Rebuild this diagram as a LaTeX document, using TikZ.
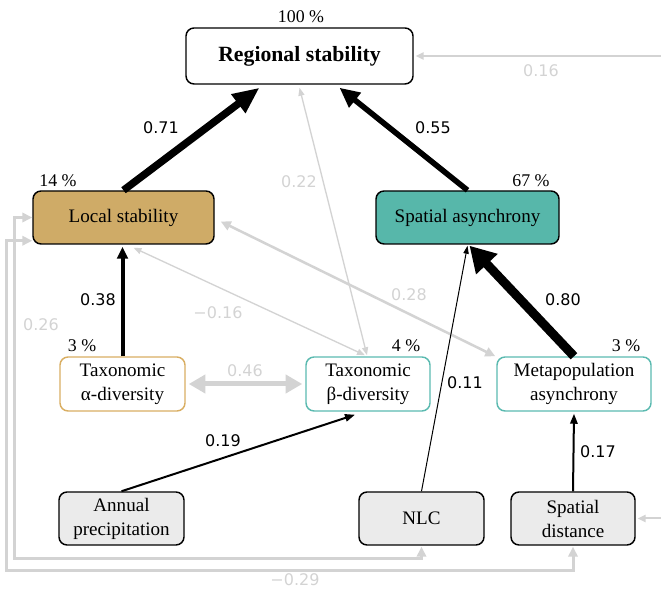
\documentclass[tikz,border=0pt]{standalone}
\usepackage{fontspec}
\setmainfont{Liberation Serif}
\newfontfamily\labfont{DejaVu Sans}
\usetikzlibrary{arrows.meta,calc}
\definecolor{loccol}{HTML}{CFAB67}
\definecolor{sacol}{HTML}{57B7AA}
\definecolor{alphacol}{HTML}{D9AE62}
\definecolor{betacol}{HTML}{5BBAB0}
\definecolor{drivercol}{HTML}{EBEBEB}
\definecolor{grycol}{HTML}{D3D3D3}
\begin{document}
\begin{tikzpicture}[x=0.75pt,y=-0.75pt,
  box/.style={draw, rounded corners=6pt, line width=1.1pt, align=center, inner sep=0pt,
    font=\fontsize{14.3}{18}\selectfont},
  pct/.style={font=\fontsize{13.4}{15}\selectfont, inner sep=0pt},
  lab/.style={font=\labfont\fontsize{12}{14}\selectfont, inner sep=0pt},
  glab/.style={lab, text=grycol},
  blk/.style={draw=black},
  gry/.style={draw=grycol}
]
\useasboundingbox (0,0) rectangle (661,591);

% nodes
\node[box, fill=white, minimum width=170.25pt, minimum height=42pt] (reg) at (299.5,56)
  {\bfseries\fontsize{16.3}{18}\selectfont Regional stability};
\node[box, fill=loccol, minimum width=135.75pt, minimum height=39.75pt] (loc) at (123.5,217.5) {Local stability};
\node[box, fill=sacol, minimum width=137.25pt, minimum height=39.75pt] (sa) at (467.5,217.5) {Spatial asynchrony};
\node[box, draw=alphacol, minimum width=93.75pt, minimum height=40.5pt] (alpha) at (122.5,384) {Taxonomic\\α-diversity};
\node[box, draw=betacol, minimum width=93pt, minimum height=40.5pt] (beta) at (368,384) {Taxonomic\\β-diversity};
\node[box, draw=betacol, minimum width=115.5pt, minimum height=40.5pt] (mp) at (574,384) {Metapopulation\\asynchrony};
\node[box, fill=drivercol, minimum width=93.75pt, minimum height=39.75pt] (ann) at (121.5,518.5) {Annual\\precipitation};
\node[box, fill=drivercol, minimum width=93.75pt, minimum height=39.75pt] (nlc) at (421.5,518.5) {NLC};
\node[box, fill=drivercol, minimum width=93pt, minimum height=39.75pt] (sd) at (573,518.5) {Spatial\\distance};

% percentages
\node[pct] (p1) at (301,17) {100 \%};
\node[pct] (p2) at (58,181) {14 \%};
\node[pct] (p3) at (531,181) {67 \%};
\node[pct] (p4) at (82,346) {3 \%};
\node[pct] (p5) at (406,346) {4 \%};
\node[pct] (p6) at (626,346) {3 \%};

\coordinate (r1) at (661,56);
\coordinate (r2) at (661,518.5);

% gray connectors
\draw[gry, line width=1.5pt, -{Triangle[length=6pt,width=5.5pt]}] (r1) -- ($(reg.east)+(2,0)$);
\draw[gry, line width=1.5pt, -{Triangle[length=6pt,width=5.5pt]}] (r2) -- ($(sd.east)+(2,0)$);
\draw[gry, line width=1pt, {Triangle[length=6pt,width=4.5pt]}-{Triangle[length=6pt,width=4.5pt]}]
  ($(reg.south)+(0,3)$) -- ($(beta.north)+(-1,-1)$);
\draw[gry, line width=1pt, {Triangle[length=6pt,width=4.5pt]}-{Triangle[length=6pt,width=4.5pt]}]
  ($(loc.south)+(10,3)$) -- ($(beta.north)+(-3,-1)$);
\draw[gry, line width=1.9pt, {Triangle[length=7.5pt,width=7pt]}-{Triangle[length=7.5pt,width=7pt]}]
  ($(loc.east)+(6,4)$) -- ($(mp.north west)+(-1,0)$);
\draw[gry, line width=3.75pt, {Triangle[length=12.5pt,width=13.5pt]}-{Triangle[length=12.5pt,width=13.5pt]}]
  ($(alpha.east)+(3,0)$) -- ($(beta.west)+(-3,0)$);
\draw[gry, line width=2.25pt, {Triangle[length=7.5pt,width=7pt]}-{Triangle[length=7.5pt,width=7pt]}]
  (loc.west) -- ++(-18,0) |- ($(nlc.south)+(0,13)$) -- ($(nlc.south)+(0,1)$);
\draw[gry, line width=2.25pt, {Triangle[length=7.5pt,width=7pt]}-{Triangle[length=7.5pt,width=7pt]}]
  ($(loc.south west)+(0,-4)$) -- ++(-26,0) |- ($(sd.south)+(0,25)$) -- ($(sd.south)+(0,1)$);

% black connectors
\draw[blk, line width=5.6pt, -{Triangle[length=20pt,width=16.5pt]}] (loc.north) -- ($(reg.south)+(-40,3)$);
\draw[blk, line width=4.2pt, -{Triangle[length=15pt,width=13.5pt]}] (sa.north) -- ($(reg.south)+(40,3)$);
\draw[blk, line width=6.8pt, -{Triangle[length=19pt,width=21pt]}] (mp.north) -- ($(sa.south)+(2,1)$);
\draw[blk, line width=0.75pt, -{Triangle[length=6pt,width=4pt]}] (nlc.north) -- ($(sa.south)+(0,1)$);
\draw[blk, line width=3pt, -{Triangle[length=9pt,width=8pt]}] (alpha.north) -- ($(loc.south)+(-1,2)$);
\draw[blk, line width=1.5pt, -{Triangle[length=7.5pt,width=5.5pt]}] (ann.north) -- ($(beta.south)+(-13,3)$);
\draw[blk, line width=1.5pt, -{Triangle[length=7.5pt,width=5.5pt]}] (sd.north) -- ($(mp.south)+(0,2)$);

% labels
\node[lab] (l1) at (161,128) {0.71};
\node[lab] (l2) at (433,128) {0.55};
\node[glab] (l3) at (541,71) {0.16};
\node[glab] (l4) at (299,182) {0.22};
\node[glab] (l5) at (409,295) {0.28};
\node[lab] (l6) at (563,300) {0.80};
\node[lab] (l7) at (98,300) {0.38};
\node[glab] (l8) at (218,313) {−0.16};
\node[glab] (l9) at (41,325) {0.26};
\node[glab] (l10) at (245,371) {0.46};
\node[lab] (l11) at (465,383) {0.11};
\node[lab] (l12) at (223,441) {0.19};
\node[lab] (l13) at (598,452) {0.17};
\node[glab] (l14) at (295,580) {−0.29};
\end{tikzpicture}
\end{document}
